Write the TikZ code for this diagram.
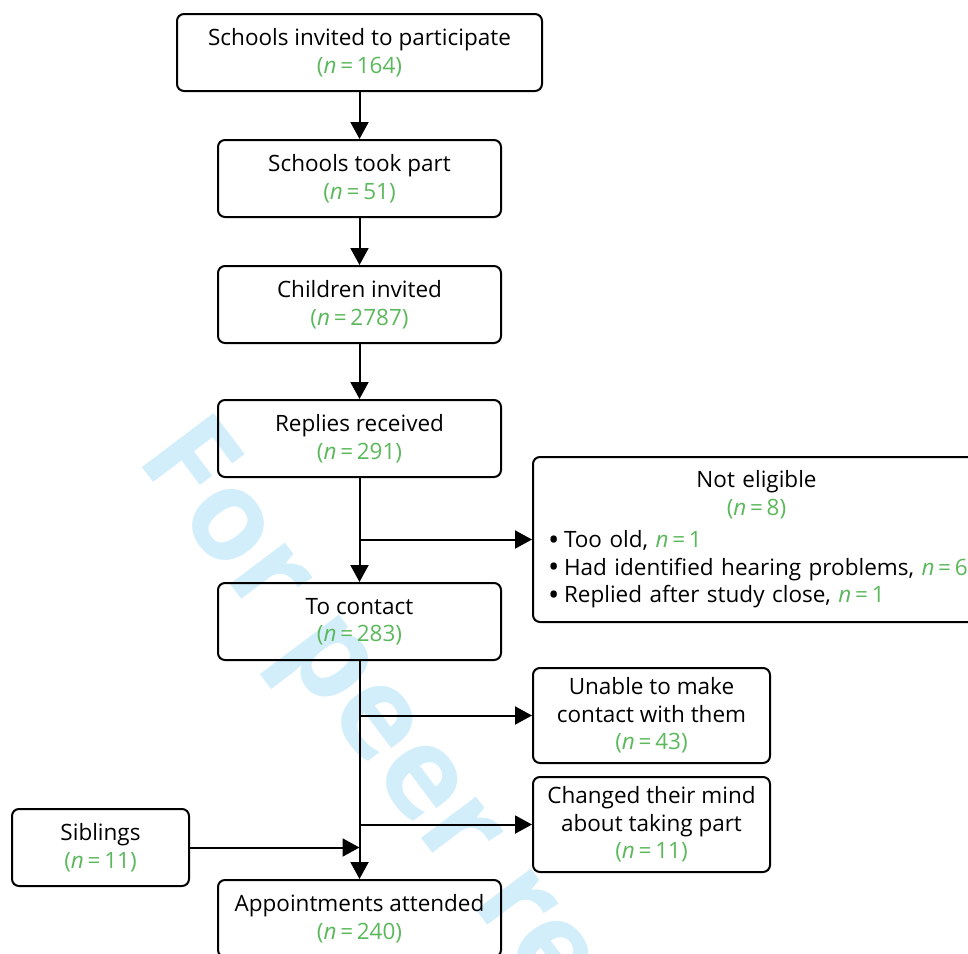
\documentclass[tikz,border=0pt]{standalone}
\usepackage{fontspec}
\setmainfont{Open Sans}
\usepackage{xcolor}
\usetikzlibrary{arrows.meta,positioning}
\definecolor{countgreen}{HTML}{5CB85C}
\definecolor{markblue}{HTML}{D3EEFB}
\newcommand{\ncount}[1]{\textcolor{countgreen}{\textit{n}\,=\,#1}}
\newcommand{\nbrack}[1]{\textcolor{countgreen}{(\textit{n}\,=\,#1)}}
\newcommand{\dotitem}{\makebox[16pt][l]{\raisebox{-2.5pt}{\fontsize{30}{27.5}\selectfont •}}}

\begin{document}
\begin{tikzpicture}[
  x=1pt,y=-1pt,
  >={Triangle[length=17pt,width=18pt]},
  line width=2pt,
  box/.style={draw,rounded corners=7pt,minimum width=283pt,minimum height=77pt,inner sep=0pt,align=center},
  every node/.style={font=\fontsize{22.5}{27.5}\selectfont}
]
  \useasboundingbox (0,0) rectangle (968,953);
  \clip (0,0) rectangle (968,953);
  \node[markblue,font=\fontsize{126}{126}\selectfont\bfseries,rotate=-53,anchor=base west,inner sep=0pt]
    (watermark) at (135,458) {For peer review};

  \node[box,minimum width=365pt] (invited) at (359.5,52.5) {Schools invited to participate\\\nbrack{164}};
  \node[box,below=47pt of invited] (tookpart) {Schools took part\\\nbrack{51}};
  \node[box,below=47pt of tookpart] (children) {Children invited\\\nbrack{2787}};
  \node[box,below=55pt of children] (replies) {Replies received\\\nbrack{291}};
  \node[box,below=104pt of replies] (contact) {To contact\\\nbrack{283}};
  \node[box,below=218pt of contact] (attended) {Appointments attended\\\nbrack{240}};

  \node[box,minimum width=447pt,minimum height=165pt,text width=417pt,align=left] (noteligible) at (756.5,539.5)
    {\centering Not eligible\\\nbrack{8}\par\vspace{5pt}\raggedright
     \dotitem Too old, \ncount{1}\\
     \mbox{\dotitem Had identified hearing problems, \ncount{6}}\\
     \dotitem Replied after study close, \ncount{1}};
  \node[box,minimum width=237pt,minimum height=95pt] (unable) at (651.5,715.5) {Unable to make\\contact with them\\\nbrack{43}};
  \node[box,minimum width=237pt,minimum height=95pt] (changed) at (651.5,824.5) {Changed their mind\\about taking part\\\nbrack{11}};
  \node[box,minimum width=177pt] (siblings) at (100.5,847.5) {Siblings\\\nbrack{11}};

  \draw[->] (invited) -- (tookpart);
  \draw[->] (tookpart) -- (children);
  \draw[->] (children) -- (replies);
  \draw[->] (replies) -- (contact);
  \draw[->] (contact) -- (attended);
  \draw[->] (replies.south |- noteligible.west) -- (noteligible.west);
  \draw[->] (contact.south |- unable.west) -- (unable.west);
  \draw[->] (contact.south |- changed.west) -- (changed.west);
  \draw[->] (siblings) -- (siblings -| contact.south);
\end{tikzpicture}
\end{document}
